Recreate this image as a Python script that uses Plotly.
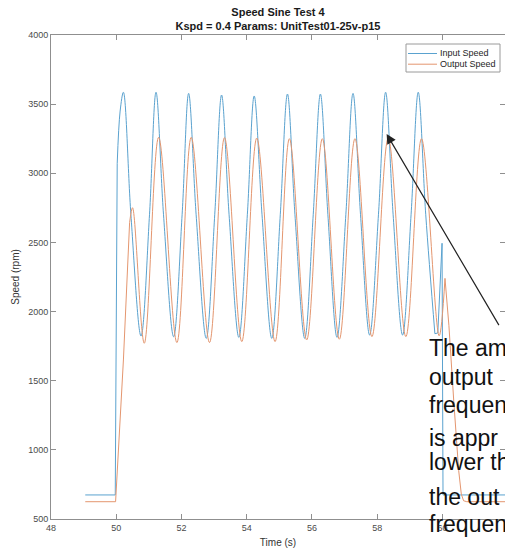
import plotly.graph_objects as go

# ---------------- data ----------------
# Input Speed (rpm)
in_start_t = [49.05, 49.97, 50.03]
in_start_v = [674, 674, 3070]
in_sine_t = [50.03, 50.12, 50.22, 50.45, 50.76, 51.02, 51.22, 51.45, 51.76, 52.02,
             52.22, 52.45, 52.76, 53.02, 53.23, 53.46, 53.76, 54.02, 54.23, 54.47,
             54.77, 55.03, 55.25, 55.48, 55.78, 56.04, 56.26, 56.49, 56.77, 57.04,
             57.26, 57.49, 57.77, 58.04, 58.26, 58.49, 58.78, 59.04, 59.26, 59.49,
             59.77]
in_sine_v = [3070, 3450, 3586, 2700, 1823, 2700, 3586, 2700, 1818, 2700,
             3578, 2700, 1806, 2700, 3566, 2700, 1813, 2700, 3559, 2700,
             1806, 2700, 3573, 2700, 1806, 2700, 3573, 2700, 1813, 2700,
             3578, 2700, 1830, 2700, 3586, 2700, 1830, 2700, 3586, 2700,
             1840]
in_end_t = [59.77, 59.86, 59.99, 60.02, 61.95]
in_end_v = [1840, 1845, 2494, 674, 674]

# Output Speed (rpm)
out_start_t = [49.05, 49.98, 50.22, 50.41]
out_start_v = [625, 625, 1650, 2643]
out_sine_t = [50.41, 50.50, 50.86, 51.30, 51.86, 52.30, 52.86, 53.32, 53.85, 54.31,
              54.87, 55.31, 55.84, 56.32, 56.84, 57.32, 57.84, 58.34, 58.88, 59.36,
              59.90, 60.08]
out_sine_v = [2643, 2751, 1771, 3260, 1776, 3260, 1776, 3258, 1783, 3255,
              1783, 3250, 1795, 3250, 1800, 3250, 1819, 3255, 1819, 3250,
              1825, 2240]
out_end_t = [60.08, 60.20, 60.35, 60.50, 60.58, 60.65, 60.75, 61.95]
out_end_v = [2240, 1900, 1350, 850, 680, 632, 625, 625]

series_names = ["Input Speed", "Output Speed"]
series_colors = ["#5aa2cf", "#e4966f"]

title_lines = ["Speed Sine Test 4", "Kspd = 0.4 Params: UnitTest01-25v-p15"]
x_label = "Time (s)"
y_label = "Speed (rpm)"
note_lines = ["The am", "output", "frequen", "is appr", "lower th", "the out", "frequen"]

FONT = "Liberation Sans, Arial, Helvetica, sans-serif"

W, H = 505, 554
ML, MR, MT, MB = 51, 0, 35, 35
PW, PH = W - ML - MR, H - MT - MB


def px_x(p):
    return (p - ML) / PW


def px_y(p):
    return (H - MB - p) / PH


fig = go.Figure()

segments = [
    (0, in_start_t, in_start_v, "linear"),
    (0, in_sine_t, in_sine_v, "spline"),
    (0, in_end_t, in_end_v, "linear"),
    (1, out_start_t, out_start_v, "linear"),
    (1, out_sine_t, out_sine_v, "spline"),
    (1, out_end_t, out_end_v, "linear"),
]
for idx, t, v, shape in segments:
    fig.add_trace(go.Scatter(
        x=t, y=v, mode="lines", name=series_names[idx],
        legendgroup=series_names[idx], showlegend=False,
        line=dict(color=series_colors[idx], width=1, shape=shape),
        hoverinfo="skip",
    ))

axis_common = dict(
    showgrid=False, zeroline=False, showline=True, linecolor="#8f8f8f", linewidth=1,
    mirror="ticks", ticks="inside", ticklen=5, tickcolor="#8f8f8f", tickwidth=1,
    tickfont=dict(family=FONT, size=9, color="#4a4a4a"),
)

fig.update_layout(
    width=W, height=H,
    margin=dict(l=ML, r=MR, t=MT, b=MB),
    paper_bgcolor="white", plot_bgcolor="white",
    font=dict(family=FONT, color="#262626"),
    title=dict(
        text="<b>" + title_lines[0] + "</b><br><b>" + title_lines[1] + "</b>",
        font=dict(family=FONT, size=11, color="#1a1a1a"),
        x=0.5, xref="paper", xanchor="center",
        y=1 - 16 / H, yref="container", yanchor="bottom",
    ),
    xaxis=dict(range=[48, 61.92], tick0=48, dtick=2,
               title=dict(text=x_label, font=dict(family=FONT, size=10, color="#333333"), standoff=7),
               **axis_common),
    yaxis=dict(range=[500, 4000], tick0=500, dtick=500,
               title=dict(text=y_label, font=dict(family=FONT, size=10, color="#333333"), standoff=6),
               **axis_common),
    showlegend=False,
)

# compact legend box (MATLAB style)
fig.add_shape(type="rect", xref="paper", yref="paper",
              x0=px_x(406), x1=px_x(500), y0=px_y(72), y1=px_y(44),
              line=dict(color="#9a9a9a", width=1), fillcolor="white", layer="above")
for i, (name, col) in enumerate(zip(series_names, series_colors)):
    ypx = 53.5 + i * 10.7
    fig.add_shape(type="line", xref="paper", yref="paper",
                  x0=px_x(408), x1=px_x(437), y0=px_y(ypx), y1=px_y(ypx),
                  line=dict(color=col, width=1), layer="above")
    fig.add_annotation(x=px_x(439), xref="paper", xanchor="left",
                       y=px_y(ypx), yref="paper", yanchor="middle",
                       text=name, showarrow=False, borderpad=0,
                       font=dict(family=FONT, size=9, color="#262626"))

# arrow
fig.add_annotation(
    x=58.29, y=3284, ax=61.76, ay=1891, xref="x", yref="y", axref="x", ayref="y",
    text="", showarrow=True, arrowhead=2, arrowsize=1.6, arrowwidth=1.2,
    arrowcolor="#222222", standoff=0,
)

# overlaid note text (cropped at the right edge)
note_y_px = [348, 377, 404.5, 438, 462, 497, 524]
for line, ypx in zip(note_lines, note_y_px):
    fig.add_annotation(
        x=px_x(428), xref="paper", xanchor="left",
        y=px_y(ypx), yref="paper", yanchor="middle",
        text=line, showarrow=False, borderpad=0,
        font=dict(family=FONT, size=23, color="#111111"),
    )

fig.write_html("out.html")
